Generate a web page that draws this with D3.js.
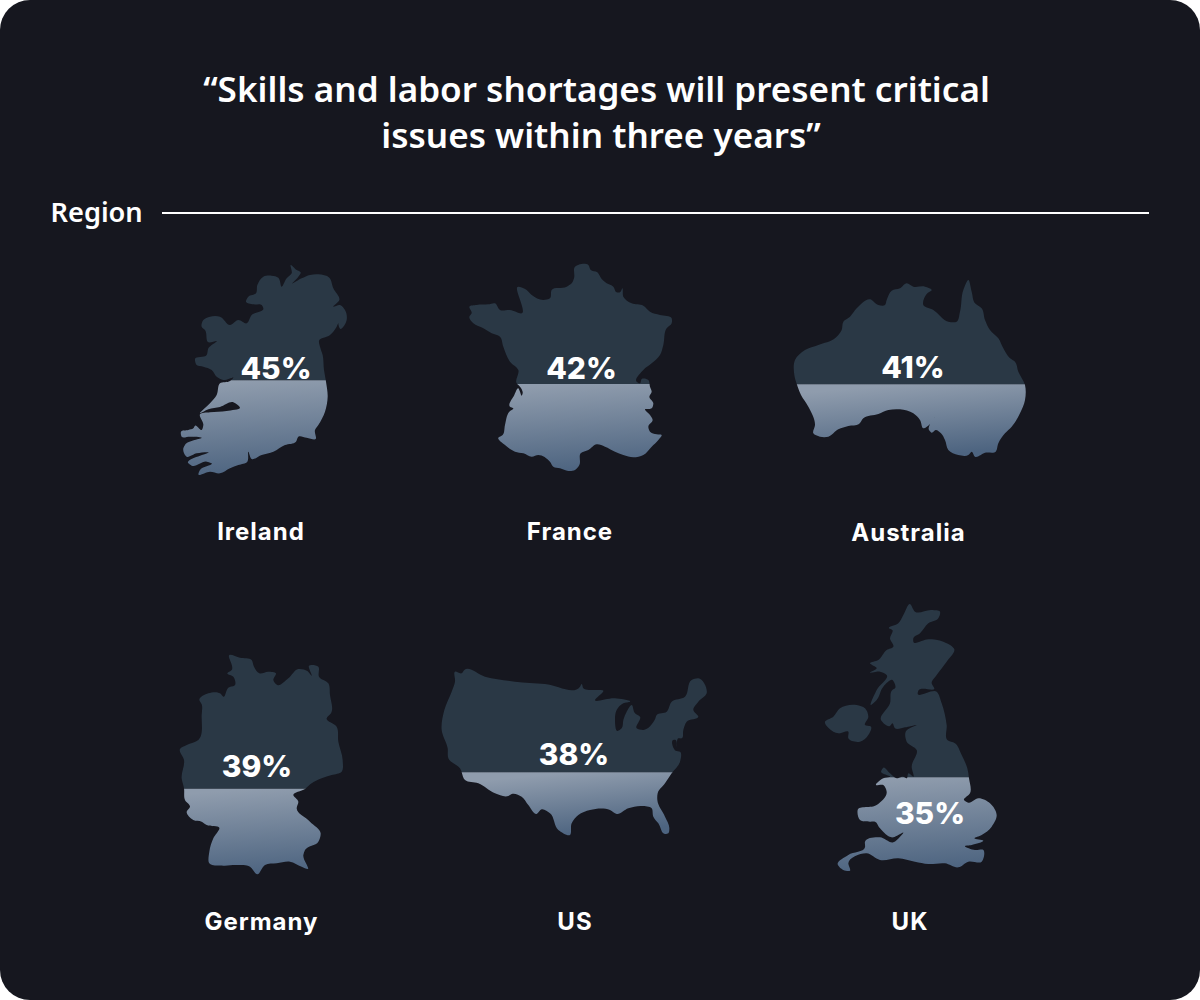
<!DOCTYPE html>
<html><head><meta charset="utf-8">
<script src="https://cdnjs.cloudflare.com/ajax/libs/d3/7.8.5/d3.min.js"></script>
<style>html,body{margin:0;padding:0;background:#fff}svg{display:block}</style></head>
<body><svg id="c" width="1200" height="1000"></svg>
<script>
const titleLines=["“Skills and labor shortages will present critical","issues within three years”"];
const titleX=[596.5,601];
const sectionLabel="Region";
const countries=["Ireland","France","Australia","Germany","US","UK"];
const values=[45,42,41,39,38,35];
const labelX=[261,570,908.5,261.5,575,910];
const labelY=[540,540,541,930,930,930];
const valueX=[276,581.5,913,257,574,930];
const valueY=[379,379,378,777,765,824];
const origins=[[170,255],[460,255],[785,270],[170,645],[435,660],[815,600]];
const irelandOutline=[[[362,30],[380,45],[392,52],[385,65],[367,85],[395,70],[420,60],[445,58],[478,68],[490,100],[508,135],[490,155],[510,150],[525,165],[530,195],[520,215],[512,222],[505,205],[510,190],[500,215],[480,240],[447,258],[450,275],[458,300],[462,345],[468,380],[473,425],[465,470],[445,510],[435,525],[437,552],[410,548],[385,545],[378,560],[345,570],[310,590],[275,600],[245,612],[235,590],[232,620],[205,630],[180,640],[150,655],[120,650],[85,658],[90,645],[125,625],[110,620],[65,632],[55,625],[115,592],[80,595],[50,605],[40,580],[45,570],[95,548],[60,545],[35,545],[33,530],[55,525],[70,520],[75,512],[95,525],[100,510],[90,478],[120,472],[170,468],[210,458],[190,442],[150,456],[115,463],[90,475],[120,445],[140,420],[150,385],[180,378],[190,368],[160,375],[140,365],[125,345],[100,335],[80,330],[75,312],[110,300],[115,280],[140,258],[115,262],[105,225],[95,215],[100,195],[120,185],[150,185],[180,210],[205,195],[230,205],[245,180],[280,160],[275,150],[250,148],[228,140],[235,125],[258,115],[262,90],[280,65],[305,62],[325,68],[335,95],[350,70],[365,55]]];
const franceOutline=[[[345,35],[365,27],[385,30],[392,45],[412,52],[425,72],[440,85],[460,95],[470,112],[480,112],[487,100],[490,125],[515,145],[550,152],[570,170],[600,180],[635,190],[635,205],[620,220],[610,270],[600,300],[575,325],[550,345],[530,380],[540,385],[545,372],[565,375],[570,395],[575,410],[568,425],[580,445],[575,460],[555,463],[570,480],[578,495],[565,515],[570,530],[590,538],[605,540],[595,555],[575,575],[550,600],[520,607],[490,600],[465,590],[435,575],[410,568],[385,585],[362,595],[358,630],[345,645],[325,648],[300,640],[280,635],[270,620],[235,600],[215,605],[190,595],[165,590],[135,570],[115,548],[128,540],[135,510],[148,470],[160,460],[150,455],[163,420],[175,400],[180,410],[185,422],[188,415],[180,395],[170,385],[175,345],[150,320],[130,275],[120,245],[95,235],[70,220],[40,205],[28,185],[35,175],[28,155],[50,150],[85,148],[105,145],[120,165],[150,165],[185,175],[175,95],[200,105],[215,120],[250,135],[270,130],[275,105],[320,95],[335,85],[342,70]]];
const australiaOutline=[[[365,40],[385,50],[420,50],[440,60],[425,72],[415,105],[445,120],[490,155],[515,155],[525,125],[535,60],[550,30],[560,65],[570,100],[590,115],[600,150],[615,180],[640,205],[655,235],[675,265],[690,275],[700,305],[720,345],[720,390],[705,430],[680,470],[660,490],[640,520],[632,545],[600,548],[570,560],[560,545],[550,555],[520,555],[490,540],[480,510],[468,490],[452,480],[440,488],[432,480],[450,440],[435,462],[415,475],[405,450],[385,430],[345,418],[310,420],[280,432],[235,445],[222,462],[190,468],[160,478],[130,500],[105,500],[85,490],[90,465],[70,410],[48,375],[38,350],[28,315],[30,270],[60,240],[100,225],[150,205],[170,180],[175,155],[195,140],[215,115],[255,88],[280,105],[300,105],[305,90],[320,62],[345,55]]];
const germanyOutline=[[[178,30],[210,38],[245,45],[252,65],[268,85],[295,80],[318,85],[310,105],[322,120],[355,100],[385,72],[412,78],[425,92],[417,62],[445,65],[447,95],[475,115],[480,150],[483,205],[470,220],[500,245],[505,290],[518,345],[515,380],[485,390],[455,400],[425,415],[405,432],[370,450],[385,470],[380,490],[420,530],[452,565],[445,590],[405,615],[400,630],[413,672],[395,665],[360,650],[320,655],[285,660],[262,688],[240,665],[200,660],[160,662],[118,655],[118,620],[130,580],[148,548],[110,540],[95,530],[70,525],[50,500],[60,485],[45,465],[42,430],[35,400],[42,345],[30,312],[50,300],[85,285],[95,210],[95,178],[88,165],[115,145],[150,145],[160,155],[175,128],[195,120],[190,95],[172,85],[185,75]]];
const usOutline=[[[60,35],[80,40],[88,30],[150,50],[240,65],[330,72],[435,80],[440,72],[445,85],[475,90],[505,92],[480,120],[540,115],[585,125],[565,130],[545,150],[540,180],[548,213],[560,205],[565,180],[575,155],[590,135],[600,160],[615,170],[605,205],[625,210],[660,178],[665,165],[695,155],[710,125],[750,110],[770,60],[790,55],[815,100],[790,125],[775,150],[790,170],[755,185],[745,210],[740,235],[730,235],[725,260],[722,240],[715,240],[722,272],[735,275],[735,305],[710,340],[690,370],[668,400],[667,420],[690,470],[703,505],[700,520],[690,522],[670,490],[655,470],[650,445],[620,438],[580,445],[545,462],[525,450],[465,450],[430,465],[410,490],[405,525],[370,510],[345,460],[320,448],[305,462],[280,435],[260,410],[230,402],[220,408],[180,400],[130,370],[90,360],[75,325],[40,295],[38,265],[20,210],[28,150],[50,95],[60,65]]];
const ukOutline=[[[285,12],[300,35],[350,30],[375,35],[370,55],[340,70],[315,100],[295,115],[295,125],[340,118],[385,125],[418,148],[395,185],[365,225],[350,250],[358,265],[310,272],[308,280],[365,275],[380,310],[395,375],[397,420],[420,430],[440,465],[457,505],[462,535],[465,580],[447,600],[460,608],[490,595],[525,610],[545,645],[530,680],[500,705],[478,715],[505,722],[470,735],[450,738],[480,750],[505,750],[500,785],[460,785],[430,802],[390,790],[340,792],[300,785],[250,775],[195,780],[155,760],[100,790],[105,812],[85,810],[68,793],[100,765],[150,742],[150,725],[195,712],[235,727],[255,710],[265,698],[250,705],[235,712],[195,685],[180,665],[165,665],[135,660],[128,630],[185,615],[215,575],[205,555],[183,555],[205,535],[225,530],[198,515],[205,503],[225,520],[245,535],[265,530],[275,535],[280,520],[295,530],[290,500],[305,450],[275,425],[272,395],[305,375],[270,382],[240,385],[232,370],[225,378],[198,360],[225,310],[232,270],[240,265],[232,240],[205,260],[185,300],[168,315],[185,270],[215,225],[195,215],[165,218],[185,205],[165,190],[190,180],[215,150],[235,140],[225,115],[232,90],[222,85],[250,70],[265,45]],
[[30,365],[55,350],[75,325],[125,315],[150,325],[160,350],[150,375],[168,380],[160,405],[135,425],[100,415],[100,395],[70,400],[55,395]]];
const outlines=[irelandOutline,franceOutline,australiaOutline,germanyOutline,usOutline,ukOutline];

const colors={bg:"#16171f",dark:"#2a3845",lightTop:"#8f9cad",lightBottom:"#4d6480"};
const svg=d3.select("#c");
const defs=svg.append("defs");
svg.append("rect").attr("width",1200).attr("height",1000).attr("rx",30).attr("fill",colors.bg);

svg.selectAll("text.title").data(titleLines).join("text").attr("class","title")
 .attr("x",(d,i)=>titleX[i]).attr("y",(d,i)=>102+i*46).attr("text-anchor","middle")
 .attr("font-family","'Noto Sans'").attr("font-weight",600).attr("font-size",35.1).attr("fill","#fff").text(d=>d);
svg.append("text").attr("x",50.5).attr("y",222).attr("font-family","'Noto Sans'").attr("font-weight",600)
 .attr("font-size",27.2).attr("fill","#fff").text(sectionLabel);
svg.append("line").attr("x1",162).attr("x2",1149).attr("y1",213).attr("y2",213).attr("stroke","#fff").attr("stroke-width",2);

countries.forEach((name,i)=>{
  const rings=outlines[i], [ox,oy]=origins[i];
  const all=rings.flat();
  const [zx0,zx1]=d3.extent(all,p=>p[0]), [zy0,zy1]=d3.extent(all,p=>p[1]);
  const x=d3.scaleLinear().domain([0,3]).range([ox,ox+1]);
  const y=d3.scaleLinear().domain([0,3]).range([oy,oy+1]);
  const line=d3.line().x(p=>x(p[0])).y(p=>y(p[1])).curve(d3.curveCatmullRomClosed.alpha(1));
  const pathD=rings.map(r=>line(r)).join("");
  const fill=d3.scaleLinear().domain([0,100]).range([y(zy1),y(zy0)]);
  const split=fill(values[i]);
  const id=name.toLowerCase();
  const left=x(zx0)-5,w=x(zx1)-x(zx0)+10;
  defs.append("clipPath").attr("id","top-"+id).append("rect").attr("x",left).attr("width",w).attr("y",y(zy0)-5).attr("height",split-y(zy0)+5);
  defs.append("clipPath").attr("id","bot-"+id).append("rect").attr("x",left).attr("width",w).attr("y",split).attr("height",y(zy1)-split+5);
  const g=defs.append("linearGradient").attr("id","grad-"+id).attr("gradientUnits","userSpaceOnUse")
    .attr("x1",x((zx0+zx1)/2)-3).attr("x2",x((zx0+zx1)/2)+3).attr("y1",split).attr("y2",y(zy1));
  g.append("stop").attr("offset",0).attr("stop-color",colors.lightTop);
  g.append("stop").attr("offset",1).attr("stop-color",colors.lightBottom);
  const gr=svg.append("g").attr("class","country");
  gr.append("path").attr("d",pathD).attr("fill",colors.dark).attr("clip-path",`url(#top-${id})`);
  gr.append("path").attr("d",pathD).attr("fill",`url(#grad-${id})`).attr("clip-path",`url(#bot-${id})`);
  gr.append("text").attr("x",valueX[i]).attr("y",valueY[i]).attr("text-anchor","middle")
    .attr("font-family","Inter").attr("font-weight",800).attr("font-size",30).attr("fill","#fff").text(values[i]+"%");
  gr.append("text").attr("x",labelX[i]).attr("y",labelY[i]).attr("text-anchor","middle")
    .attr("font-family","Inter").attr("font-weight",700).attr("font-size",24).attr("letter-spacing",1).attr("fill","#fff").text(name);
});
</script></body></html>
